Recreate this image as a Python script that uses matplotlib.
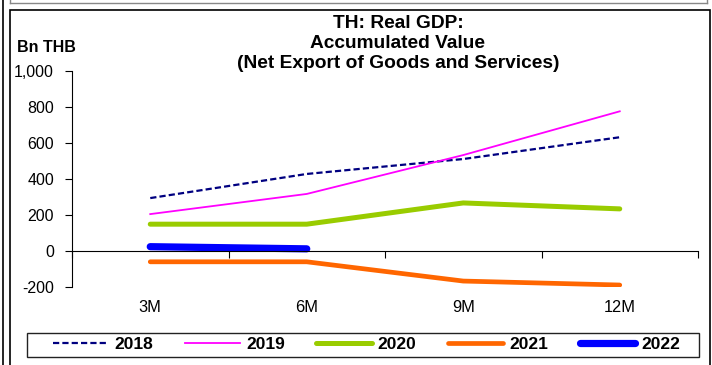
import matplotlib
matplotlib.use("Agg")
import matplotlib.pyplot as plt
from matplotlib.patches import Rectangle
from matplotlib.lines import Line2D
from matplotlib.ticker import FuncFormatter
import matplotlib.transforms as mtransforms

# --- data (Bn THB, accumulated net exports) ---
periods = ["3M", "6M", "9M", "12M"]
y2018 = [294, 428, 511, 632]
y2019 = [205, 317, 533, 776]
y2020 = [149, 149, 267, 234]
y2021 = [-60, -60, -167, -189]
y2022 = [24, 12]

plt.rcParams["font.family"] = ["Liberation Sans", "DejaVu Sans"]

W, H = 712, 365
fig = plt.figure(figsize=(W / 100, H / 100), dpi=100)
ax = fig.add_axes([72 / W, 1 - 287 / H, 626 / W, 216 / H])

xs = [i + 0.5 for i in range(len(periods))]
ax.plot(xs, y2018, color="#000080", lw=1.6, ls=(0, (2.8, 1.4)), label="2018")
ax.plot(xs, y2019, color="#FF00FF", lw=1.3, label="2019")
ax.plot(xs, y2020, color="#99CC00", lw=3.6, solid_capstyle="round", label="2020")
ax.plot(xs, y2021, color="#FF6600", lw=3.4, solid_capstyle="round", label="2021")
ax.plot(xs[:len(y2022)], y2022, color="#0000FF", lw=5.2, solid_capstyle="round", label="2022")

ax.set_xlim(0, len(periods))
ax.set_ylim(-200, 1000)
ax.set_yticks(range(-200, 1001, 200))
ax.yaxis.set_major_formatter(FuncFormatter(lambda v, p: f"{int(v):,}"))
ax.tick_params(axis="y", direction="out", length=5, width=0.8, pad=8, labelsize=11.5)

# x axis line sits at zero, ticks between categories
ax.spines["bottom"].set_position(("data", 0))
ax.spines["top"].set_visible(False)
ax.spines["right"].set_visible(False)
ax.set_xticks(range(len(periods) + 1))
ax.set_xticklabels([])
ax.tick_params(axis="x", direction="out", length=5, width=0.8)

# category labels below the plot area
trans = mtransforms.blended_transform_factory(ax.transData, ax.transAxes)
for x, lab in zip(xs, periods):
    ax.text(x, -0.06, lab, transform=trans, ha="center", va="top", fontsize=11.8)

# titles
fig.text(398 / W, 1 - 24 / H, "TH: Real GDP:", ha="center", va="center",
         fontsize=13.8, fontweight="bold")
fig.text(398 / W, 1 - 44 / H, "Accumulated Value", ha="center", va="center",
         fontsize=13.8, fontweight="bold")
fig.text(398 / W, 1 - 64 / H, "(Net Export of Goods and Services)", ha="center",
         va="center", fontsize=13.8, fontweight="bold")
fig.text(17 / W, 1 - 48 / H, "Bn THB", ha="left", va="center",
         fontsize=11.5, fontweight="bold")

# legend: frame drawn separately, entries centred inside it
fig.add_artist(Rectangle((27 / W, 1 - 356.5 / H), 672 / W, 23.5 / H,
                         transform=fig.transFigure, fill=False, lw=1.0, ec="#222222"))
fig.legend(loc="center", ncol=5, bbox_to_anchor=(366.5 / W, 1 - 344.8 / H),
           prop={"weight": "bold", "size": 12.5}, handlelength=3.2,
           handletextpad=0.35, columnspacing=1.8, borderaxespad=0,
           borderpad=0, frameon=False)

# outer frames (screenshot borders)
fig.add_artist(Rectangle((10 / W, -0.01), 699.5 / W, 1 - 10 / H + 0.01,
                         transform=fig.transFigure, fill=False, lw=1.2, ec="black"))
fig.add_artist(Line2D([2.7 / W, 2.7 / W], [0, 1], transform=fig.transFigure,
                      color="black", lw=1.2))
fig.add_artist(Line2D([10 / W, 707 / W], [1 - 2.7 / H, 1 - 2.7 / H],
                      transform=fig.transFigure, color="#888888", lw=1.0))
fig.add_artist(Line2D([707 / W, 707 / W], [1 - 2.7 / H, 1], transform=fig.transFigure,
                      color="#888888", lw=1.0))
fig.add_artist(Line2D([10 / W, 10 / W], [1 - 2.7 / H, 1], transform=fig.transFigure,
                      color="#888888", lw=1.0))

fig.savefig("out.png", dpi=100)
